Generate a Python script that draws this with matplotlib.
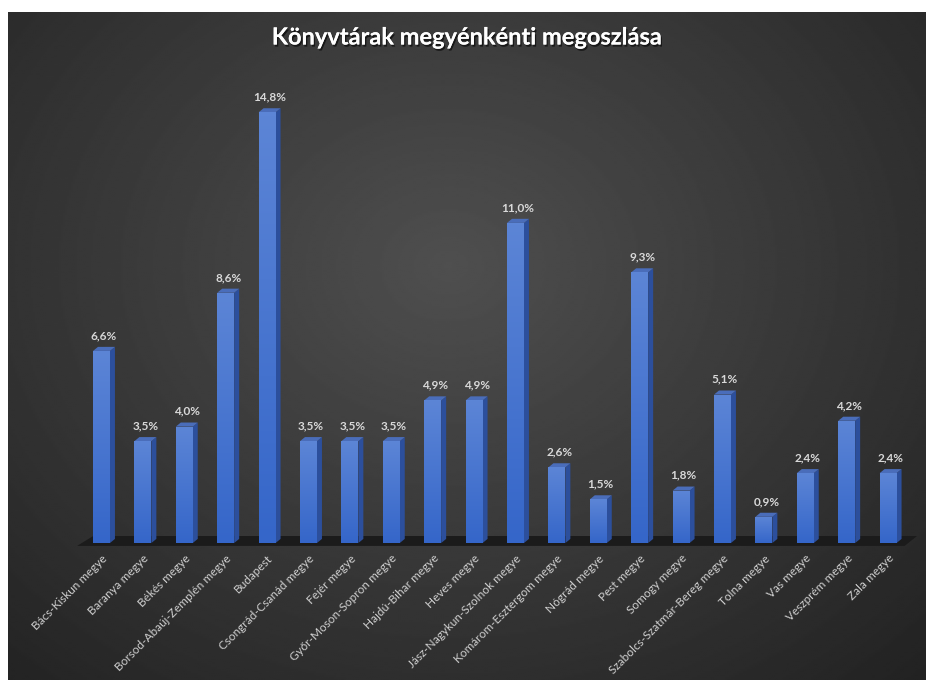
import numpy as np
import matplotlib
matplotlib.use('Agg')
import matplotlib.pyplot as plt
from matplotlib.patches import Polygon, Rectangle
import matplotlib.patheffects as pe
from matplotlib.colors import LinearSegmentedColormap

plt.rcParams['font.family'] = ['Lato', 'DejaVu Sans']

title = "Könyvtárak megyénkénti megoszlása"
categories = ["Bács-Kiskun megye", "Baranya megye", "Békés megye",
              "Borsod-Abaúj-Zemplén megye", "Budapest", "Csongrád-Csanád megye",
              "Fejér megye", "Győr-Moson-Sopron megye", "Hajdú-Bihar megye",
              "Heves megye", "Jász-Nagykun-Szolnok megye", "Komárom-Esztergom megye",
              "Nógrád megye", "Pest megye", "Somogy megye",
              "Szabolcs-Szatmár-Bereg megye", "Tolna megye", "Vas megye",
              "Veszprém megye", "Zala megye"]
values = [6.6, 3.5, 4.0, 8.6, 14.8, 3.5, 3.5, 3.5, 4.9, 4.9,
          11.0, 2.6, 1.5, 9.3, 1.8, 5.1, 0.9, 2.4, 4.2, 2.4]
value_labels = [f"{v:.1f}%".replace('.', ',') for v in values]

W, H = 926, 680
fig = plt.figure(figsize=(W / 100, H / 100), dpi=100, facecolor='white')

# background radial gradient
bg = fig.add_axes([8 / W, 0, 1 - 8 / W, 1 - 12 / H])
ny, nx = 340, 460
yy, xx = np.mgrid[0:1:ny * 1j, 0:1:nx * 1j]
d = np.sqrt(((xx - 0.48) / 0.75) ** 2 + ((yy - 0.38) / 0.85) ** 2)
lum = np.clip(0.31 - 0.175 * d, 0.11, 0.32)
bg.imshow(lum, cmap='gray', vmin=0, vmax=1, extent=[0, 1, 0, 1],
          aspect='auto', origin='upper', interpolation='bilinear')
bg.set_axis_off()

# main axes
ax = fig.add_axes([80.8 / W, (680 - 543) / H, 828 / W, 465.6 / H])
ax.set_facecolor('none')
n = len(values)
x = np.arange(n)
bw = 0.41
dx, dy = 0.12, 0.14

# floor
floor = Polygon([(-0.59, -0.10), (n - 0.6, -0.10), (n - 0.3, 0.24), (-0.2, 0.24)],
                closed=True, facecolor='#1b1b1b', edgecolor='none', zorder=1,
                clip_on=False)
ax.add_patch(floor)

front_cmap = LinearSegmentedColormap.from_list('f', ['#3566c9', '#5c85d6'])
grad = np.linspace(0, 1, 100).reshape(-1, 1)

for i, v in zip(x, values):
    x0, x1 = i - bw / 2, i + bw / 2
    rect = Rectangle((x0, 0), bw, v, facecolor='#4472c4', edgecolor='none',
                     zorder=3, clip_on=False)
    ax.add_patch(rect)
    im = ax.imshow(grad, cmap=front_cmap, extent=[x0, x1, 0, v], origin='lower',
                   aspect='auto', zorder=3.1, interpolation='bilinear')
    im.set_clip_path(rect)
    side = Polygon([(x1, 0), (x1 + dx, dy), (x1 + dx, v + dy), (x1, v)],
                   closed=True, facecolor='#2c4f9c', edgecolor='none', zorder=3,
                   clip_on=False)
    ax.add_patch(side)
    top = Polygon([(x0, v), (x0 + dx, v + dy), (x1 + dx, v + dy), (x1, v)],
                  closed=True, facecolor='#4a6dba', edgecolor='none', zorder=3,
                  clip_on=False)
    ax.add_patch(top)

for i, v, lab in zip(x, values, value_labels):
    ax.text(i + dx / 2, v + dy + 0.2, lab, ha='center', va='bottom',
            fontsize=8.5, fontweight='bold', color='#d9d9d9', zorder=5)

ax.set_xlim(-0.5, n - 0.5)
ax.set_ylim(0, 16)
ax.set_xticks(x)
ax.set_xticklabels(categories, rotation=45, ha='right', rotation_mode='anchor',
                   fontsize=8.5, color='#d0d0d0')
ax.tick_params(axis='x', length=0, pad=7)
ax.set_yticks([])
for s in ax.spines.values():
    s.set_visible(False)

fig.text(467 / W, 1 - 37 / H, title, ha='center', va='center', fontsize=17,
         fontweight='bold', color='white',
         path_effects=[pe.withSimplePatchShadow(offset=(1, -1.5), shadow_rgbFace='black', alpha=0.6),
                       pe.Normal()])

fig.savefig('out.png', dpi=100, facecolor='white')
